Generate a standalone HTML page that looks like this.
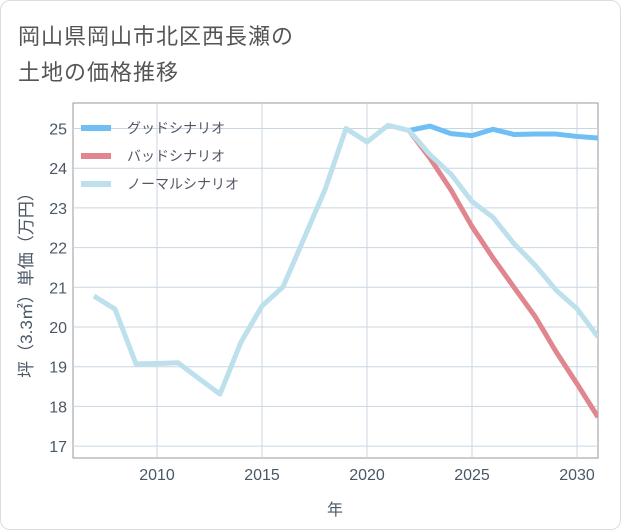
<!DOCTYPE html>
<html><head><meta charset="utf-8"><style>
body{margin:0;background:#fff;font-family:"Liberation Sans","Noto Sans CJK JP",sans-serif}
#card{position:absolute;left:0;top:0;width:619px;height:528px;border:1px solid #ddd;border-radius:10px;background:#fff}
.t{position:absolute;left:17px;font-size:22px;color:#555;letter-spacing:1px}
</style></head><body>
<div id="card">
<div class="t" style="top:18px">岡山県岡山市北区西長瀬の</div>
<div class="t" style="top:54px">土地の価格推移</div>
<svg id="c" width="621" height="530" style="position:absolute;left:0;top:0"></svg>
</div>
<script>
const years=[2007,2008,2009,2010,2011,2012,2013,2014,2015,2016,2017,2018,2019,2020,2021,2022,2023,2024,2025,2026,2027,2028,2029,2030,2031];
const normal=[20.78,20.45,19.07,19.08,19.1,18.7,18.31,19.62,20.53,21.01,22.23,23.46,25.0,24.66,25.08,24.95,24.34,23.85,23.16,22.76,22.1,21.56,20.93,20.46,19.75];
const futYears=[2022,2023,2024,2025,2026,2027,2028,2029,2030,2031];
const good=[24.95,25.06,24.87,24.82,24.98,24.85,24.86,24.86,24.8,24.76];
const bad=[24.95,24.25,23.45,22.53,21.74,21.0,20.27,19.38,18.57,17.73];
const xTicks=[2010,2015,2020,2025,2030];
const yTicks=[17,18,19,20,21,22,23,24,25];
const L=72,R=597,T=102,B=457;
const X=y=>156+(y-2010)*21;
const Y=v=>127.5+(25-v)*39.7;
const s=document.getElementById('c');const NS='http://www.w3.org/2000/svg';
function mk(t,a,p){const e=document.createElementNS(NS,t);for(const k in a)e.setAttribute(k,a[k]);(p||s).appendChild(e);return e;}
const bg=mk('rect',{x:L,y:T,width:R-L,height:B-T,fill:'#fff',stroke:'#999','stroke-width':1});


xTicks.forEach(v=>{const l=mk('line',{x1:X(v),x2:X(v),y1:T,y2:B,stroke:'#c8d6e2'});


const t=mk('text',{x:X(v),y:B+22,'text-anchor':'middle','font-size':16,fill:'#4a5866'});t.textContent=v;

});
yTicks.forEach(v=>{const l=mk('line',{x1:L,x2:R,y1:Y(v),y2:Y(v),stroke:'#c8d6e2'});


const t=mk('text',{x:L-6,y:Y(v)+6,'text-anchor':'end','font-size':16,fill:'#4a5866'});t.textContent=v;

});
const cp=mk('clipPath',{id:'cp'});mk('rect',{x:L,y:T,width:R-L,height:B-T},cp);
function line(xs,vs,col,name){const p=mk('polyline',{points:xs.map((x,i)=>X(x)+','+Y(vs[i])).join(' '),fill:'none',stroke:col,'stroke-width':5,'stroke-linejoin':'round','clip-path':'url(#cp)'});

}
line(futYears,good,'#6fbff5','good-scenario-line');
line(futYears,bad,'#e0868f','bad-scenario-line');
line(years,normal,'#bde0ec','normal-scenario-line');
const leg=[['グッドシナリオ','#6fbff5'],['バッドシナリオ','#e0868f'],['ノーマルシナリオ','#bde0ec']];
leg.forEach((d,i)=>{const y=127+i*28;const g=mk('g',{});


mk('rect',{x:80,y:y-3,width:30,height:6,fill:d[1]},g);
const t=mk('text',{x:126,y:y+5,'font-size':14,fill:'#556'},g);t.textContent=d[0];});
const yt=mk('text',{x:0,y:0,transform:'translate(31,280) rotate(-90)','text-anchor':'middle','font-size':17,fill:'#4a5866'});yt.textContent='坪（3.3㎡）単価（万円）';


const xt=mk('text',{x:334,y:514,'text-anchor':'middle','font-size':16,fill:'#4a5866'});xt.textContent='年';


</script></body></html>
